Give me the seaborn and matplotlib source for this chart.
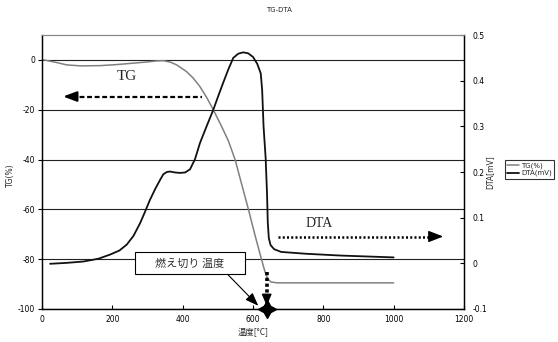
"""TG-DTA curve with burn-out temperature callout."""

import matplotlib

matplotlib.use("Agg")
import matplotlib.pyplot as plt
import seaborn as sns
from matplotlib.lines import Line2D
from matplotlib.patches import Rectangle

# TG (%) vs temperature
temp_tg = [5, 40, 70, 110, 165, 210, 260, 300, 326, 345, 365, 383, 411, 430,
           449, 468, 487, 510, 530, 549, 568, 587, 605, 624, 634, 642, 652,
           670, 800, 1000]
tg = [0, -1.0, -2.0, -2.4, -2.3, -1.9, -1.3, -0.8, -0.4, -0.3, -0.9, -2.0,
      -4.7, -7.3, -10.7, -15.0, -20.0, -26.5, -32.5, -40.0, -50.0, -60.0,
      -70.0, -80.0, -85.0, -88.0, -89.2, -89.5, -89.5, -89.5]

# DTA (mV) vs temperature
temp_dta = [23, 70, 118, 160, 193, 220, 241, 260, 279, 293, 307, 322, 336,
            345, 355, 364, 378, 392, 407, 421, 435, 449, 468, 487, 501, 515,
            530, 544, 558, 572, 586, 600, 612, 622, 626, 630, 636, 640, 642,
            645, 650, 660, 680, 750, 850, 1000]
dta = [-0.001, 0.001, 0.004, 0.010, 0.019, 0.028, 0.041, 0.060, 0.088, 0.113,
       0.139, 0.163, 0.183, 0.195, 0.200, 0.201, 0.199, 0.198, 0.199, 0.206,
       0.228, 0.263, 0.300, 0.336, 0.366, 0.395, 0.425, 0.450, 0.459, 0.462,
       0.460, 0.452, 0.437, 0.416, 0.38, 0.30, 0.23, 0.15, 0.09, 0.055, 0.040,
       0.031, 0.025, 0.021, 0.017, 0.013]

burnout_temp = 639
x_ticks = [0, 200, 400, 600, 800, 1000, 1200]
tg_ticks = [-100, -80, -60, -40, -20, 0]
dta_ticks = [-0.1, 0, 0.1, 0.2, 0.3, 0.4, 0.5]

sns.set_theme(style="white")
plt.rcParams["font.family"] = ["DejaVu Sans", "Noto Sans CJK JP"]
plt.rcParams["axes.unicode_minus"] = False
cjk = ["Noto Sans CJK JP", "DejaVu Sans"]
serif = ["Liberation Serif", "DejaVu Serif"]

fig = plt.figure(figsize=(5.58, 3.42), dpi=100)
ax = fig.add_axes([42 / 558, 33 / 342, 422 / 558, 274 / 342])
ax2 = ax.twinx()

sns.lineplot(x=temp_tg, y=tg, ax=ax, color="#808080", lw=1.1,
             sort=False, estimator=None, label="TG(%)", legend=False)
sns.lineplot(x=temp_dta, y=dta, ax=ax2, color="#111111", lw=1.3,
             sort=False, estimator=None, label="DTA(mV)", legend=False)

ax.set_xlim(0, 1200)
ax.set_ylim(-100, 10)
ax2.set_ylim(-0.1, 0.5)
ax.set_xticks(x_ticks)
ax.set_yticks(tg_ticks)
ax2.set_yticks(dta_ticks)
ax2.set_yticklabels([f"{v:g}" for v in dta_ticks])
ax.yaxis.grid(True, color="#222222", lw=0.8)
ax.xaxis.grid(False)
ax2.grid(False)
ax.set_xlabel("")
ax.set_ylabel("")
ax2.set_ylabel("")

ax.tick_params(axis="y", left=True, direction="out", length=3, width=0.8,
               labelsize=5.5, pad=2, colors="black")
ax.tick_params(axis="x", bottom=True, direction="in", length=3, width=0.8,
               labelsize=5.5, pad=4, colors="black")
ax2.tick_params(axis="y", right=True, direction="in", length=3, width=0.8,
                labelsize=5.5, pad=6, colors="black")
for a in (ax, ax2):
    for side in ("left", "bottom", "right"):
        a.spines[side].set_color("black")
        a.spines[side].set_linewidth(0.9)
    a.spines["top"].set_color("#888888")
    a.spines["top"].set_linewidth(0.8)

# text labels
fig.text(0.5, 1 - 10 / 342, "TG-DTA", ha="center", va="center", fontsize=5)
fig.text(10 / 558, 1 - 175 / 342, "TG(%)", rotation=90, ha="center",
         va="center", fontsize=5.5)
fig.text(490 / 558, 1 - 172 / 342, "DTA[mV]", rotation=90, ha="center",
         va="center", fontsize=5.5)
fig.text(253 / 558, 1 - 333 / 342, "温度[°C]", ha="center", va="center",
         fontsize=6, family=cjk)

# TG arrow (dashed, pointing left)
ax.text(240, -6.5, "TG", ha="center", va="center", fontsize=11, family=serif)
ax.plot([85, 454], [-14.7, -14.7], color="black", lw=1.6,
        linestyle=(0, (2.2, 1.2)))
ax.annotate("", xy=(60, -14.7), xytext=(95, -14.7),
            arrowprops=dict(arrowstyle="-|>,head_length=0.8,head_width=0.3",
                            mutation_scale=10, color="black", lw=1.6,
                            shrinkA=0, shrinkB=0))

# DTA arrow (dotted, pointing right)
ax.text(788, -65.5, "DTA", ha="center", va="center", fontsize=10,
        family=serif)
ax.plot([672, 1110], [-70.9, -70.9], color="black", lw=1.8,
        linestyle=(0, (0.8, 0.9)))
ax.annotate("", xy=(1141, -70.9), xytext=(1100, -70.9),
            arrowprops=dict(arrowstyle="-|>,head_length=0.9,head_width=0.35",
                            mutation_scale=10, color="black", lw=1.0,
                            shrinkA=0, shrinkB=0))

# burn-out temperature callout
ax.add_patch(Rectangle((264, -86.0), 313, 8.7, facecolor="white",
                       edgecolor="black", lw=0.8, zorder=5))
ax.text(420, -81.7, "燃え切り 温度", ha="center", va="center", fontsize=8,
        family=cjk, color="#333333", zorder=6)
ax.annotate("", xy=(615, -98.7), xytext=(530, -86.4),
            arrowprops=dict(arrowstyle="-|>,head_length=0.8,head_width=0.3",
                            mutation_scale=10, color="black", lw=0.8,
                            shrinkA=0, shrinkB=0), zorder=6)
ax.plot([burnout_temp, burnout_temp], [-85.3, -95], color="black", lw=2.6,
        linestyle=(0, (0.9, 0.7)), zorder=6)
ax.annotate("", xy=(burnout_temp, -98.7), xytext=(burnout_temp, -94.5),
            arrowprops=dict(arrowstyle="-|>,head_length=0.7,head_width=0.3",
                            mutation_scale=10, color="black", lw=1.0,
                            shrinkA=0, shrinkB=0), zorder=6)
ax.plot([burnout_temp], [-100], marker=(4, 1, 0), ms=13, color="black",
        clip_on=False, zorder=7)

handles = [Line2D([], [], color="#808080", lw=1.1),
           Line2D([], [], color="#111111", lw=1.3)]
leg = fig.legend(handles, ["TG(%)", "DTA(mV)"], loc="upper left",
                 bbox_to_anchor=(505 / 558, 1 - 160 / 342), fontsize=5,
                 frameon=True, fancybox=False, edgecolor="black",
                 handlelength=1.7, borderpad=0.3, labelspacing=0.2,
                 handletextpad=0.3, borderaxespad=0)
leg.get_frame().set_linewidth(0.8)

fig.savefig("out.png", dpi=100)
